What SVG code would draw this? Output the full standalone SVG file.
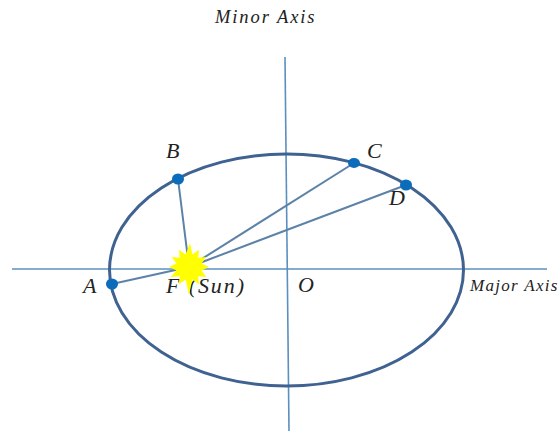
<svg xmlns="http://www.w3.org/2000/svg" width="560" height="432" viewBox="0 0 560 432">
<style>
.axis{stroke:#5b8fc0;stroke-width:1.6;fill:none}
.spoke{stroke:#5d82a8;stroke-width:2;fill:none}
.pt{fill:#0a6cba}
text{font-family:"Liberation Serif","DejaVu Serif",serif;font-style:italic;fill:#222}
.big{font-size:22px}
.major{font-size:17px;letter-spacing:1.3px}
.minor{font-size:18.5px;letter-spacing:1.9px}
</style>
<rect width="560" height="432" fill="#fff"/>
<g id="connectors">
<line class="axis" x1="12" y1="269" x2="547" y2="269"/>
<line class="axis" x1="285" y1="57" x2="289" y2="431"/>
<line class="spoke" x1="112" y1="284" x2="189" y2="267"/>
<line class="spoke" x1="178" y1="179" x2="189" y2="267"/>
<line class="spoke" x1="354" y1="163" x2="189" y2="267"/>
<line class="spoke" x1="406" y1="185" x2="189" y2="267"/>
</g>
<g id="orbit"><ellipse cx="286.5" cy="270" rx="177" ry="116" fill="none" stroke="#3f6291" stroke-width="3"/></g>
<g id="node-A"><ellipse class="pt" cx="112" cy="284" rx="6" ry="5.5"/><text class="big" x="83" y="293">A</text></g>
<g id="node-B"><ellipse class="pt" cx="178" cy="179" rx="6" ry="5.5"/><text class="big" x="166" y="158">B</text></g>
<g id="node-C"><ellipse class="pt" cx="354" cy="163" rx="6" ry="5"/><text class="big" x="367" y="158">C</text></g>
<g id="node-D"><ellipse class="pt" cx="406" cy="185" rx="6" ry="5.5"/><text class="big" x="389" y="205">D</text></g>
<g id="node-O"><text class="big" x="298" y="292">O</text></g>
<g id="node-F"><text class="big" x="166" y="293" letter-spacing="1.9">F (Sun)</text>
<polygon fill="#ffff00" points="209,267 201.6,270.4 206.3,277 198.2,276.2 199,284.3 192.4,279.6 189,295 185.6,279.6 179,284.3 179.8,276.2 170.7,277 176.4,270.4 169,267 176.4,263.6 171.7,257 179.8,257.8 179,249.7 185.6,254.4 190,243 192.4,254.4 199,249.7 198.2,257.8 206.3,257 201.6,263.6"/></g>
<g id="label-major"><text class="major" x="470" y="291">Major Axis</text></g>
<g id="label-minor"><text class="minor" x="215" y="23">Minor Axis</text></g>
</svg>
